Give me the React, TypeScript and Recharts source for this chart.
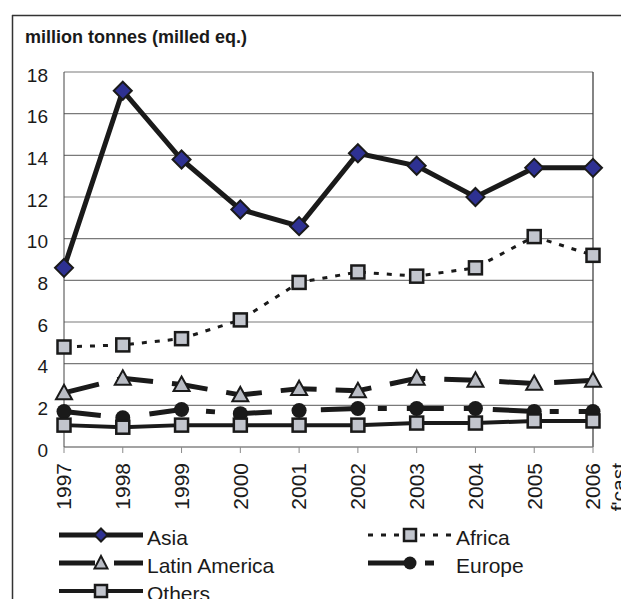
import { LineChart, Line, XAxis, YAxis, CartesianGrid, ReferenceLine } from "recharts";

// values (million tonnes, milled eq.)
const years = ["1997", "1998", "1999", "2000", "2001", "2002", "2003", "2004", "2005", "2006"];
const asia = [8.6, 17.1, 13.8, 11.4, 10.6, 14.1, 13.5, 12.0, 13.4, 13.4];
const africa = [4.8, 4.9, 5.2, 6.1, 7.9, 8.4, 8.2, 8.6, 10.1, 9.2];
const latinAmerica = [2.6, 3.3, 3.0, 2.5, 2.8, 2.7, 3.3, 3.2, 3.05, 3.2];
const europe = [1.7, 1.4, 1.8, 1.6, 1.75, 1.85, 1.85, 1.85, 1.7, 1.7];
const others = [1.05, 0.95, 1.05, 1.05, 1.05, 1.05, 1.15, 1.15, 1.25, 1.25];
const yTicks = [0, 2, 4, 6, 8, 10, 12, 14, 16, 18];

const title = "million tonnes (milled eq.)";
const forecastNote = "f'cast";

const data = years.map((year, i) => ({
  year,
  asia: asia[i],
  africa: africa[i],
  latinAmerica: latinAmerica[i],
  europe: europe[i],
  others: others[i],
}));

const INK = "#1a1a1a";
const GREY_FILL = "#c2c5cd";
const NAVY = "#2e3192";
const FONT = "'Liberation Sans', Arial, sans-serif";

type DotProps = { cx?: number; cy?: number; small?: boolean };

const Diamond = ({ cx = 0, cy = 0, small }: DotProps) => {
  const r = small ? 6.5 : 9;
  return (
    <path
      d={`M${cx},${cy - r} L${cx + r},${cy} L${cx},${cy + r} L${cx - r},${cy} Z`}
      fill={NAVY}
      stroke={INK}
      strokeWidth={2}
    />
  );
};

const Square = ({ cx = 0, cy = 0, small }: DotProps) => {
  const h = small ? 6 : 6.5;
  return (
    <rect x={cx - h} y={cy - h} width={h * 2} height={h * 2} fill={GREY_FILL} stroke={INK} strokeWidth={2.5} />
  );
};

const Triangle = ({ cx = 0, cy = 0, small }: DotProps) => {
  const w = small ? 6.5 : 8;
  const h = small ? 7 : 8;
  return (
    <path
      d={`M${cx},${cy - h} L${cx + w},${cy + h * 0.8} L${cx - w},${cy + h * 0.8} Z`}
      fill="#b9bcc4"
      stroke={INK}
      strokeWidth={2}
      strokeLinejoin="miter"
    />
  );
};

const Circle = ({ cx = 0, cy = 0, small }: DotProps) => (
  <circle cx={cx} cy={cy} r={small ? 6.5 : 7.5} fill={INK} />
);

// series styling
const series = [
  { key: "asia", name: "Asia", width: 5, dash: undefined, Marker: Diamond },
  { key: "africa", name: "Africa", width: 3, dash: "5 8", Marker: Square },
  { key: "latinAmerica", name: "Latin America", width: 5, dash: "36 19", Marker: Triangle },
  { key: "europe", name: "Europe", width: 5, dash: "37 20 9 20", Marker: Circle },
  { key: "others", name: "Others", width: 4, dash: undefined, Marker: Square },
];

const XTick = (props: any) => {
  const { x, y, payload, index } = props;
  const isLast = index === years.length - 1;
  return (
    <g>
      <text
        x={x}
        y={y}
        transform={`rotate(-90 ${x} ${y})`}
        textAnchor="end"
        dy="0.35em"
        fontSize={21}
        fill={INK}
        fontFamily={FONT}
      >
        {payload.value}
      </text>
      {isLast && (
        <text
          x={x + 26}
          y={y}
          transform={`rotate(-90 ${x + 26} ${y})`}
          textAnchor="end"
          dy="0.35em"
          fontSize={21}
          fill={INK}
          fontFamily={FONT}
        >
          {forecastNote}
        </text>
      )}
    </g>
  );
};

const YTick = (props: any) => {
  const { x, y, payload } = props;
  return (
    <text x={x} y={y} textAnchor="end" dy="0.5em" fontSize={19} fill={INK} fontFamily={FONT}>
      {payload.value}
    </text>
  );
};

// legend positions (two columns, three rows)
const legendCols = [59, 368];
const legendRows = [535, 563, 591];

const LegendSample = ({ s, col, row }: { s: (typeof series)[number]; col: number; row: number }) => {
  const x0 = legendCols[col];
  const y = legendRows[row];
  const M = s.Marker;
  return (
    <g>
      <line x1={x0} x2={x0 + 84} y1={y} y2={y} stroke={INK} strokeWidth={s.width} strokeDasharray={s.dash} />
      <M cx={x0 + 42} cy={y} small />
      <text x={x0 + 88} y={y + 10} fontSize={21} fill={INK} fontFamily={FONT}>
        {s.name}
      </text>
    </g>
  );
};

export default function App() {
  return (
    <div style={{ position: "absolute", left: 0, top: 0, width: 621, height: 599, background: "#fff", overflow: "hidden" }}>
      <LineChart width={621} height={599} data={data} margin={{ top: 72, right: 28, left: 0, bottom: 92 }}>
        <CartesianGrid vertical={false} stroke="#7a7a7a" strokeWidth={1.2} />
        <XAxis
          dataKey="year"
          height={60}
          interval={0}
          tickSize={6}
          tickMargin={10}
          stroke="#8a8a8a"
          tick={(p: any) => <XTick {...p} />}
        />
        <YAxis
          width={64}
          domain={[0, 18]}
          ticks={yTicks}
          interval={0}
          tickLine={false}
          tickSize={0}
          tickMargin={16}
          stroke="#444"
          tick={(p: any) => <YTick {...p} />}
        />
        <ReferenceLine x={years[years.length - 1]} stroke="#333" strokeWidth={1.2} />
        {series.map((s) => (
          <Line
            key={s.key}
            dataKey={s.key}
            name={s.name}
            type="linear"
            stroke={INK}
            strokeWidth={s.width}
            strokeDasharray={s.dash}
            isAnimationActive={false}
            dot={(p: any) => <s.Marker key={`${s.key}-${p.index}`} cx={p.cx} cy={p.cy} />}
          />
        ))}
      </LineChart>
      <svg width={621} height={599} style={{ position: "absolute", left: 0, top: 0, pointerEvents: "none" }}>
        <line x1={12} x2={621} y1={15.5} y2={15.5} stroke="#333" strokeWidth={1.5} />
        <line x1={12.5} x2={12.5} y1={15} y2={599} stroke="#333" strokeWidth={1.5} />
        <text x={25} y={43} fontSize={18} fontWeight="bold" fill={INK} fontFamily={FONT}>
          {title}
        </text>
        <LegendSample s={series[0]} col={0} row={0} />
        <LegendSample s={series[1]} col={1} row={0} />
        <LegendSample s={series[2]} col={0} row={1} />
        <LegendSample s={series[3]} col={1} row={1} />
        <LegendSample s={series[4]} col={0} row={2} />
      </svg>
    </div>
  );
}
